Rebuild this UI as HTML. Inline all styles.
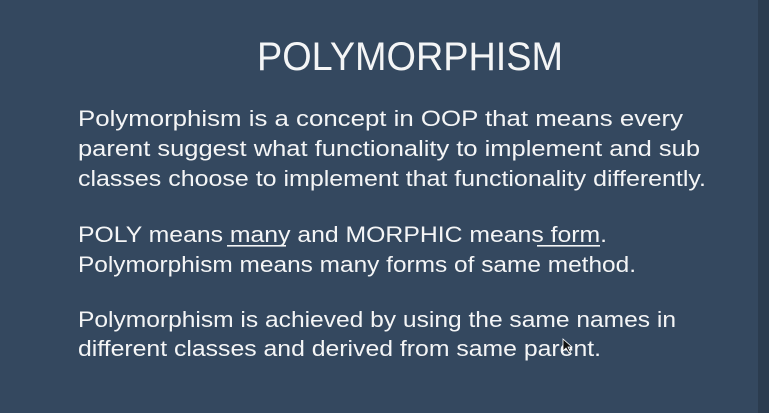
<!DOCTYPE html>
<html><head><meta charset="utf-8"><style>
html,body{margin:0;padding:0;background:#34485f;}
svg{display:block}
text{font-family:"Liberation Sans",sans-serif;fill:#f4f5f6;}
</style></head><body>
<svg width="769" height="413" viewBox="0 0 769 413">
<rect x="0" y="0" width="769" height="413" fill="#34485f"/>
<rect x="758" y="0" width="11" height="413" fill="#2b3c4f"/>
<text x="257" y="70" font-size="40" textLength="306" lengthAdjust="spacingAndGlyphs">POLYMORPHISM</text>
<g font-size="22">
<text x="78" y="126" textLength="605" lengthAdjust="spacingAndGlyphs">Polymorphism is a concept in OOP that means every</text>
<text x="78" y="156" textLength="622" lengthAdjust="spacingAndGlyphs">parent suggest what functionality to implement and sub</text>
<text x="78" y="186" textLength="628" lengthAdjust="spacingAndGlyphs">classes choose to implement that functionality differently.</text>
</g>
<g font-size="22">
<text x="78" y="242" textLength="529" lengthAdjust="spacingAndGlyphs">POLY means many and MORPHIC means form.</text>
<text x="78" y="272" textLength="558" lengthAdjust="spacingAndGlyphs">Polymorphism means many forms of same method.</text>
<rect x="227" y="245" width="59" height="1.6" fill="#f4f5f6"/>
<rect x="537" y="245" width="63" height="1.6" fill="#f4f5f6"/>
</g>
<g font-size="22">
<text x="78" y="327" textLength="598" lengthAdjust="spacingAndGlyphs">Polymorphism is achieved by using the same names in</text>
<text x="78" y="356" textLength="523" lengthAdjust="spacingAndGlyphs">different classes and derived from same parent.</text>
</g>
<path d="M563 339 L563 351 L566 348 L569 353 L570.5 352 L568 347 L572 347 Z" fill="#111" stroke="#fff" stroke-width="0.8"/>
</svg>
</body></html>
